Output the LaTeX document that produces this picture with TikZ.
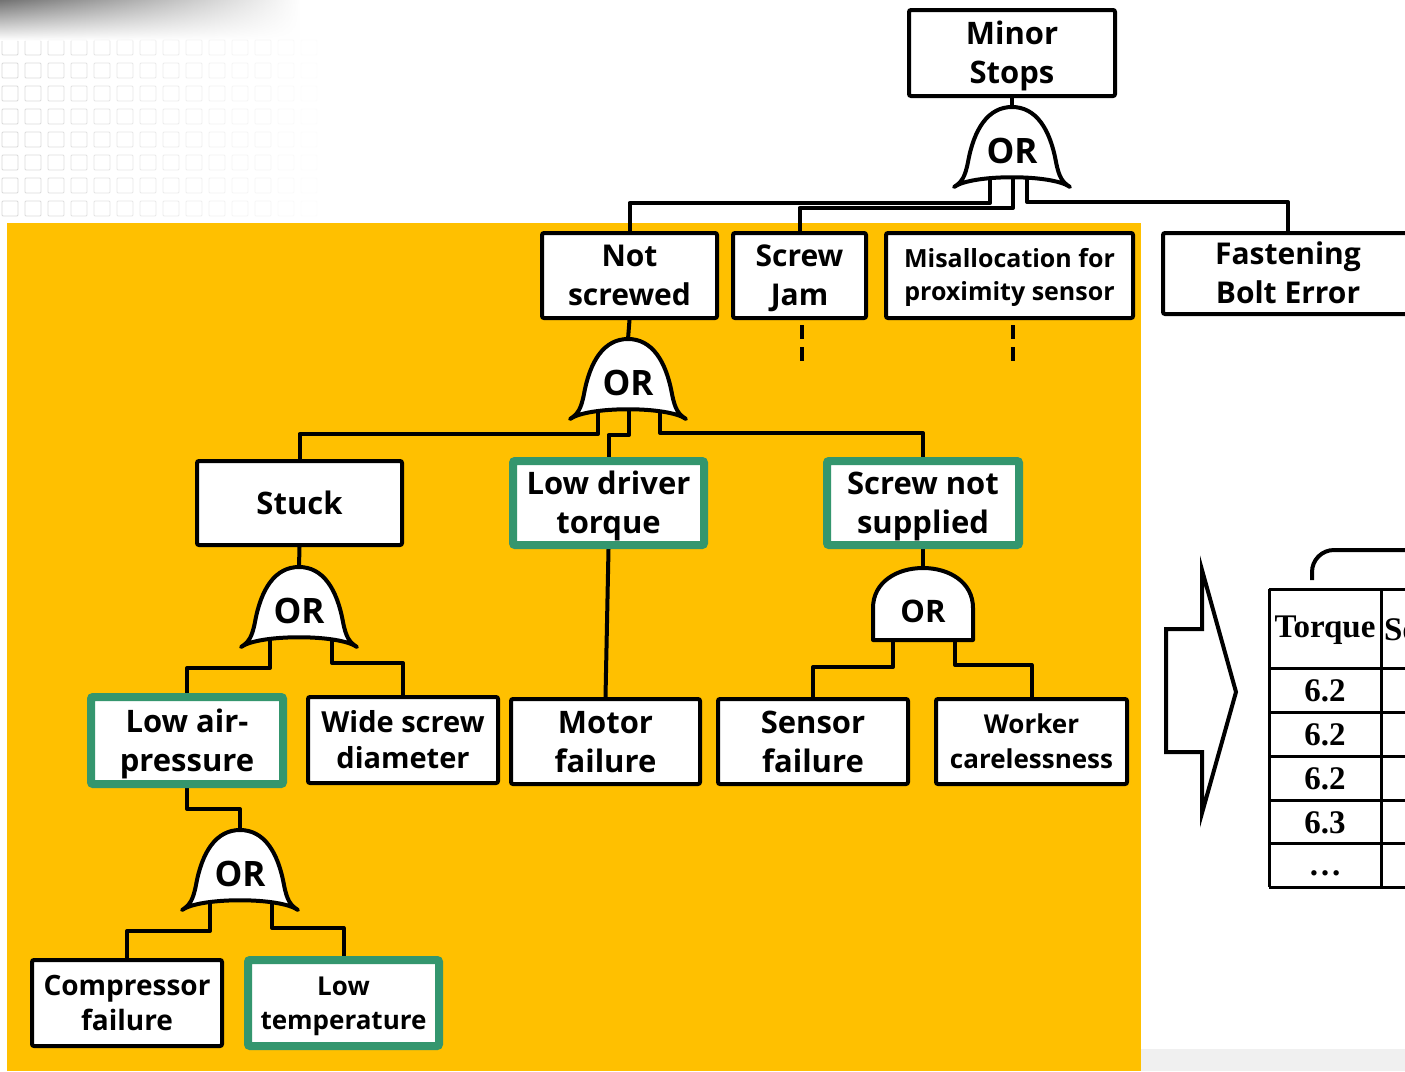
\documentclass[tikz,border=0pt]{standalone}
\usepackage{fontspec}
\setmainfont{Open Sans}
\newfontfamily\tabfont{Liberation Serif}
\usetikzlibrary{fadings,calc}
\pgfdeclarelayer{back}
\pgfdeclarelayer{wires}
\pgfsetlayers{back,wires,main}
\definecolor{orng}{RGB}{255,192,0}
\definecolor{grn}{RGB}{52,150,110}
\newcommand\bellgate[3]{%
  \draw[gate] (#2-58,#3+80) .. controls (#2-50,#3+75) and (#2-47,#3+70) .. (#2-44,#3+55)
    .. controls (#2-38,#3+22) and (#2-24,#3) .. (#2,#3)
    .. controls (#2+24,#3) and (#2+38,#3+22) .. (#2+44,#3+55)
    .. controls (#2+47,#3+70) and (#2+50,#3+75) .. (#2+58,#3+80)
    .. controls (#2+40,#3+67) and (#2-40,#3+67) .. cycle;
  \node[gtext] (#1) at (#2,#3+44) {OR};
}
\begin{document}
\begin{tikzpicture}[x=1pt,y=-1pt,
  box/.style={draw=black, line width=4pt, fill=white, rounded corners=2pt, align=center,
    inner sep=0pt, font=\fontsize{31}{39}\selectfont\bfseries, text height=61pt, text depth=0pt},
  gbox/.style={box, draw=grn, line width=8pt},
  sz/.style 2 args={minimum width=#1pt, minimum height=#2pt},
  th/.style={text height=#1pt, text depth=0pt},
  wire/.style={line width=4pt, line join=round},
  dline/.style={line width=4pt, dash pattern=on 14pt off 8pt},
  gate/.style={draw=black, line width=4pt, fill=white, line join=round},
  gtext/.style={font=\fontsize{35}{38}\selectfont\bfseries, inner sep=0pt},
  tab/.style={font=\tabfont\fontsize{33}{36}\selectfont\bfseries, inner sep=0pt},
  ]
\useasboundingbox (0,0) rectangle (1405,1071);

\begin{pgfonlayer}{back}
  \fill[white] (0,0) rectangle (1405,1071);
  \foreach \i [evaluate=\i as \op using {0.5*(1-\i/14)}] in {0,...,13}
    \foreach \j in {0,...,7}
      \draw[black!30, line width=0.8pt, draw opacity=\op, rounded corners=1pt]
        (\i*23+2,\j*23+40) rectangle ++(16,15);
  \shade[top color=black!55, bottom color=white, path fading=east] (0,0) rectangle (300,40);
  \fill[orng] (7,223) rectangle (1141,1071);
  \fill[black!6] (1141,1049) rectangle (1405,1071);
\end{pgfonlayer}

% boxes
\node[box, sz={206}{86}] (ms) at (1012,53) {Minor\\Stops};
\node[box, sz={175}{85}, font=\fontsize{30}{39}\selectfont\bfseries, th=60.4] (ns) at (629.5,275.5) {Not\\screwed};
\node[box, sz={133}{85}, font=\fontsize{30}{39}\selectfont\bfseries, th=60.4] (sj) at (799.5,275.5) {Screw\\Jam};
\node[box, sz={247}{85}, font=\fontsize{25}{33}\selectfont\bfseries, th=50.9] (mps) at (1009.5,275.5) {Misallocation for\\proximity sensor};
\node[box, sz={250}{81}, font=\fontsize{30}{39}\selectfont\bfseries, th=60.4] (fbe) at (1288,273.5) {Fastening\\Bolt Error};
\node[box, sz={205}{84}, th=22.1] (stuck) at (299.5,503) {Stuck};
\node[gbox, sz={191}{84}] (ldt) at (608.5,503) {Low driver\\torque};
\node[gbox, sz={192}{84}] (sns) at (923,503) {Screw not\\supplied};
\node[gbox, sz={192}{87}] (lap) at (187,740.5) {Low air-\\pressure};
\node[box, sz={190}{86}, font=\fontsize{29}{36}\selectfont\bfseries, th=56.7] (wsd) at (403,740) {Wide screw\\diameter};
\node[box, sz={189}{85}] (mf) at (605.5,741.5) {Motor\\failure};
\node[box, sz={190}{85}] (sf) at (813,741.5) {Sensor\\failure};
\node[box, sz={191}{85}, font=\fontsize{26}{35}\selectfont\bfseries, th=53.6] (wc) at (1031.5,741.5) {Worker\\carelessness};
\node[box, sz={190}{86}, font=\fontsize{28}{35}\selectfont\bfseries, th=55] (cf) at (127,1003) {Compressor\\failure};
\node[gbox, sz={191}{86}, font=\fontsize{26}{34}\selectfont\bfseries, th=52.6] (lt) at (343.5,1003) {Low\\temperature};

% gates
\bellgate{g1}{1012}{107}
\bellgate{g2}{628}{339}
\bellgate{g3}{299}{567}
\bellgate{g4}{240}{830}
\draw[gate] (873,640) -- (873,608) .. controls (873,582) and (897,568) .. (923,568)
  .. controls (949,568) and (973,582) .. (973,608) -- (973,640) -- cycle;
\node[gtext, font=\fontsize{31}{34}\selectfont\bfseries] (g5) at (923,611) {OR};

% gate ports
\coordinate (g1t) at (1012,107);
\coordinate (g1a) at (990,175);
\coordinate (g1b) at (1013,175);
\coordinate (g1c) at (1027,175);
\coordinate (g2t) at (628,339);
\coordinate (g2a) at (598,409);
\coordinate (g2b) at (629,409);
\coordinate (g2c) at (660,409);
\coordinate (g3t) at (299,567);
\coordinate (g3a) at (270,636);
\coordinate (g3b) at (332,636);
\coordinate (g4t) at (240,830);
\coordinate (g4a) at (210,899);
\coordinate (g4b) at (272,899);
\coordinate (g5t) at (923,568);
\coordinate (g5a) at (893,630);
\coordinate (g5b) at (955,630);

\begin{pgfonlayer}{wires}
  \draw[wire] (ms.south) -- (g1t);
  \draw[wire] (g1a) -- ++(0,28) -| (ns.north);
  \draw[wire] (g1b) -- ++(0,33) -| (sj.north);
  \draw[wire] (g1c) -- ++(0,27) -| (fbe.north);
  \draw[dline] ($(sj.south)+(2.5,5)$) -- ++(0,38);
  \draw[dline] ($(mps.south)+(3.5,5)$) -- ++(0,38);
  \draw[wire] (ns.south) -- (g2t);
  \draw[wire] (g2a) -- ++(0,25) -| (stuck.north);
  \draw[wire] (g2b) -- ++(0,26) -| (ldt.north);
  \draw[wire] (g2c) -- ++(0,24) -| (sns.north);
  \draw[wire] (stuck.south) -- (g3t);
  \draw[wire] (g3a) -- ++(0,32) -| (lap.north);
  \draw[wire] (g3b) -- ++(0,27) -| (wsd.north);
  \draw[wire] (ldt.south) -- (mf.north);
  \draw[wire] (sns.south) -- (g5t);
  \draw[wire] (g5a) -- ++(0,37) -| (sf.north);
  \draw[wire] (g5b) -- ++(0,35) -| (wc.north);
  \draw[wire] (lap.south) -- ++(0,21) -| (g4t);
  \draw[wire] (g4a) -- ++(0,32) -| (cf.north);
  \draw[wire] (g4b) -- ++(0,29) -| (lt.north);
\end{pgfonlayer}

% block arrow
\draw[line width=4pt, fill=white, line join=miter] (1202,570) -- (1236,692) -- (1202,813)
  -- (1202,752) -- (1166,752) -- (1166,629) -- (1202,629) -- cycle;

% table
\begin{scope}
  \clip (1150,530) rectangle (1405,900);
  \draw[line width=4pt, rounded corners=22pt] (1312,580) |- (1440,550);
  \foreach \yy in {589,668,712,756,800,843,887}
    \draw[line width=3pt] (1269,\yy) -- (1440,\yy);
  \draw[line width=3pt] (1269,589) -- (1269,887);
  \draw[line width=3pt] (1381,589) -- (1381,887);
  \node[tab] (th1) at (1325,630) {Torque};
  \node[tab, anchor=west] (th2) at (1384,630) {Se};
  \node[tab] (v1) at (1325,691) {6.2};
  \node[tab] (v2) at (1325,735) {6.2};
  \node[tab] (v3) at (1325,779) {6.2};
  \node[tab] (v4) at (1325,823) {6.3};
  \node[tab] (v5) at (1325,873) {\ldots};
\end{scope}
\end{tikzpicture}
\end{document}
